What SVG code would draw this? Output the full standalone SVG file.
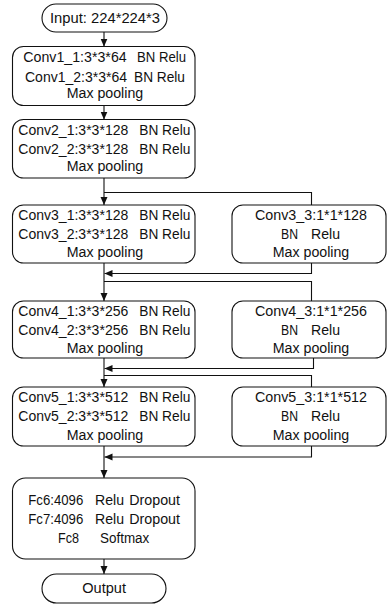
<svg xmlns="http://www.w3.org/2000/svg" width="387" height="604" viewBox="0 0 387 604">
<defs>
<style>
.b{fill:#fff;stroke:#111;stroke-width:1.1}
.t{font-family:"Liberation Sans",Arial,sans-serif;font-size:14px;fill:#111}
.m{text-anchor:middle}
.c{fill:none;stroke:#111;stroke-width:1.1}
</style>
<marker id="ah" markerUnits="userSpaceOnUse" markerWidth="8" markerHeight="8" refX="8" refY="3.5" orient="auto">
<path d="M0,0 L8,3.5 L0,7 z" fill="#111"/>
</marker>
</defs>
<rect width="387" height="604" fill="#fff"/>
<g id="connectors">
<path class="c" d="M104,32 V46.5" marker-end="url(#ah)"/>
<path class="c" d="M104,105.5 V119.5" marker-end="url(#ah)"/>
<path class="c" d="M104,178 V205" marker-end="url(#ah)"/>
<path class="c" d="M104,192.5 H311.5 V205"/>
<path class="c" d="M311.5,263 V273.5 H104.5" marker-end="url(#ah)"/>
<path class="c" d="M104,263 V301" marker-end="url(#ah)"/>
<path class="c" d="M104,281.5 H311.5 V301"/>
<path class="c" d="M313.5,358 V368.5 H104.5" marker-end="url(#ah)"/>
<path class="c" d="M104,358 V387" marker-end="url(#ah)"/>
<path class="c" d="M104,375.5 H311.5 V387"/>
<path class="c" d="M311.5,446 V457 H104.5" marker-end="url(#ah)"/>
<path class="c" d="M104,446 V478" marker-end="url(#ah)"/>
<path class="c" d="M104,559 V574" marker-end="url(#ah)"/>
</g>
<g id="input">
<rect class="b" x="42" y="4" width="125" height="28" rx="14"/>
<text class="t" x="50" y="22.5" textLength="110" lengthAdjust="spacingAndGlyphs">Input: 224*224*3</text>
</g>
<g id="conv1">
<rect class="b" x="12.5" y="46.5" width="182.5" height="59" rx="11"/>
<text class="t" x="23.3" y="62" textLength="103.4" lengthAdjust="spacingAndGlyphs">Conv1_1:3*3*64</text>
<text class="t" x="137" y="62" textLength="49" lengthAdjust="spacingAndGlyphs">BN Relu</text>
<text class="t" x="25" y="81.5" textLength="102" lengthAdjust="spacingAndGlyphs">Conv1_2:3*3*64</text>
<text class="t" x="134" y="81.5" textLength="51" lengthAdjust="spacingAndGlyphs">BN Relu</text>
<text class="t" x="66.7" y="98" textLength="76.5" lengthAdjust="spacingAndGlyphs">Max pooling</text>
</g>
<g id="conv2">
<rect class="b" x="12.5" y="119.5" width="182.5" height="58.5" rx="11"/>
<text class="t" x="18.3" y="134.5" textLength="110" lengthAdjust="spacingAndGlyphs">Conv2_1:3*3*128</text>
<text class="t" x="139.3" y="134.5" textLength="51" lengthAdjust="spacingAndGlyphs">BN Relu</text>
<text class="t" x="18.3" y="154" textLength="110" lengthAdjust="spacingAndGlyphs">Conv2_2:3*3*128</text>
<text class="t" x="139.3" y="154" textLength="51" lengthAdjust="spacingAndGlyphs">BN Relu</text>
<text class="t" x="66.7" y="171.3" textLength="76.5" lengthAdjust="spacingAndGlyphs">Max pooling</text>
</g>
<g id="conv3">
<rect class="b" x="12.5" y="205" width="182.5" height="58" rx="11"/>
<text class="t" x="18.3" y="220" textLength="110" lengthAdjust="spacingAndGlyphs">Conv3_1:3*3*128</text>
<text class="t" x="139.3" y="220" textLength="51" lengthAdjust="spacingAndGlyphs">BN Relu</text>
<text class="t" x="18.3" y="239.3" textLength="110" lengthAdjust="spacingAndGlyphs">Conv3_2:3*3*128</text>
<text class="t" x="139.3" y="239.3" textLength="51" lengthAdjust="spacingAndGlyphs">BN Relu</text>
<text class="t" x="66.7" y="257.3" textLength="76.5" lengthAdjust="spacingAndGlyphs">Max pooling</text>
</g>
<g id="conv3_3">
<rect class="b" x="232" y="205" width="154" height="58" rx="11"/>
<text class="t m" x="311" y="220" textLength="112" lengthAdjust="spacingAndGlyphs">Conv3_3:1*1*128</text>
<text class="t" x="281" y="239.3" textLength="17" lengthAdjust="spacingAndGlyphs">BN</text>
<text class="t" x="311" y="239.3" textLength="29" lengthAdjust="spacingAndGlyphs">Relu</text>
<text class="t m" x="311" y="257.3" textLength="76.5" lengthAdjust="spacingAndGlyphs">Max pooling</text>
</g>
<g id="conv4">
<rect class="b" x="12.5" y="301" width="182.5" height="57" rx="11"/>
<text class="t" x="18.3" y="316" textLength="110" lengthAdjust="spacingAndGlyphs">Conv4_1:3*3*256</text>
<text class="t" x="139.3" y="316" textLength="51" lengthAdjust="spacingAndGlyphs">BN Relu</text>
<text class="t" x="18.3" y="335" textLength="110" lengthAdjust="spacingAndGlyphs">Conv4_2:3*3*256</text>
<text class="t" x="139.3" y="335" textLength="51" lengthAdjust="spacingAndGlyphs">BN Relu</text>
<text class="t" x="66.7" y="353.3" textLength="76.5" lengthAdjust="spacingAndGlyphs">Max pooling</text>
</g>
<g id="conv4_3">
<rect class="b" x="232" y="301" width="154" height="57" rx="11"/>
<text class="t m" x="311" y="316" textLength="112" lengthAdjust="spacingAndGlyphs">Conv4_3:1*1*256</text>
<text class="t" x="281" y="335" textLength="17" lengthAdjust="spacingAndGlyphs">BN</text>
<text class="t" x="311" y="335" textLength="29" lengthAdjust="spacingAndGlyphs">Relu</text>
<text class="t m" x="311" y="353.3" textLength="76.5" lengthAdjust="spacingAndGlyphs">Max pooling</text>
</g>
<g id="conv5">
<rect class="b" x="12.5" y="387" width="182.5" height="59" rx="11"/>
<text class="t" x="18.3" y="402" textLength="110" lengthAdjust="spacingAndGlyphs">Conv5_1:3*3*512</text>
<text class="t" x="139.3" y="402" textLength="51" lengthAdjust="spacingAndGlyphs">BN Relu</text>
<text class="t" x="18.3" y="421" textLength="110" lengthAdjust="spacingAndGlyphs">Conv5_2:3*3*512</text>
<text class="t" x="139.3" y="421" textLength="51" lengthAdjust="spacingAndGlyphs">BN Relu</text>
<text class="t" x="66.7" y="440" textLength="76.5" lengthAdjust="spacingAndGlyphs">Max pooling</text>
</g>
<g id="conv5_3">
<rect class="b" x="232" y="387" width="154" height="59" rx="11"/>
<text class="t m" x="311" y="402" textLength="112" lengthAdjust="spacingAndGlyphs">Conv5_3:1*1*512</text>
<text class="t" x="281" y="421" textLength="17" lengthAdjust="spacingAndGlyphs">BN</text>
<text class="t" x="311" y="421" textLength="29" lengthAdjust="spacingAndGlyphs">Relu</text>
<text class="t m" x="311" y="440" textLength="76.5" lengthAdjust="spacingAndGlyphs">Max pooling</text>
</g>
<g id="fc">
<rect class="b" x="12.5" y="478" width="182.5" height="81" rx="13"/>
<text class="t" x="28.3" y="505" textLength="55" lengthAdjust="spacingAndGlyphs">Fc6:4096</text>
<text class="t" x="95" y="505" textLength="29" lengthAdjust="spacingAndGlyphs">Relu</text>
<text class="t" x="129.3" y="505" textLength="50.7" lengthAdjust="spacingAndGlyphs">Dropout</text>
<text class="t" x="28.3" y="524" textLength="55" lengthAdjust="spacingAndGlyphs">Fc7:4096</text>
<text class="t" x="95" y="524" textLength="29" lengthAdjust="spacingAndGlyphs">Relu</text>
<text class="t" x="129.3" y="524" textLength="50.7" lengthAdjust="spacingAndGlyphs">Dropout</text>
<text class="t" x="58" y="543.3" textLength="21" lengthAdjust="spacingAndGlyphs">Fc8</text>
<text class="t" x="100" y="543.3" textLength="49.3" lengthAdjust="spacingAndGlyphs">Softmax</text>
</g>
<g id="output">
<rect class="b" x="42" y="574" width="124" height="29" rx="14.5"/>
<text class="t" x="82.3" y="593" textLength="43.7" lengthAdjust="spacingAndGlyphs">Output</text>
</g>
</svg>
